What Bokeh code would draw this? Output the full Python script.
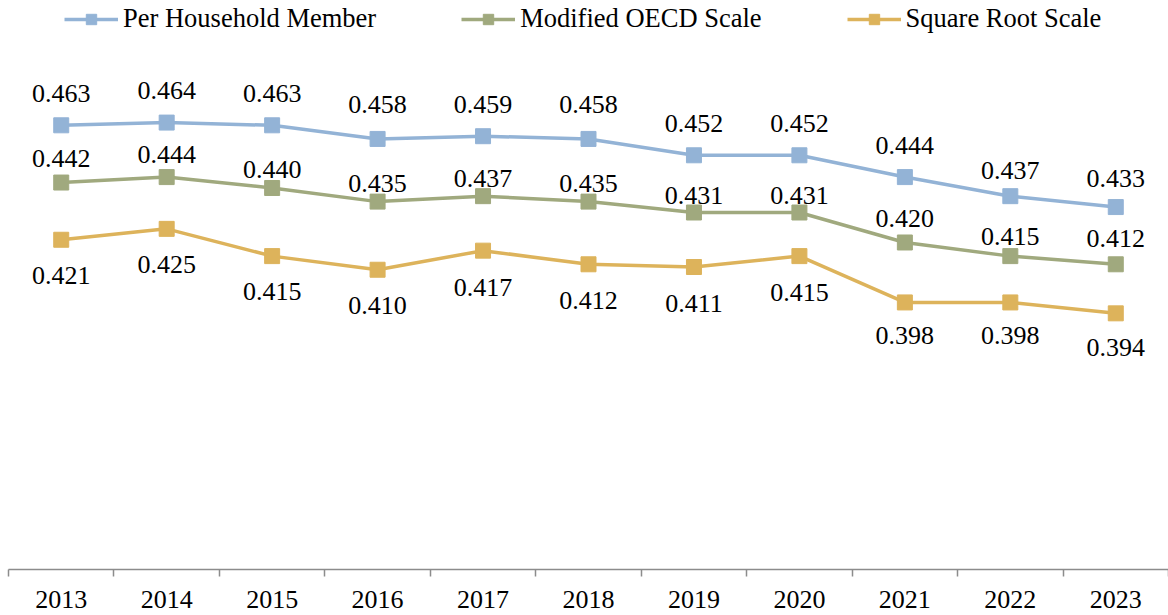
from bokeh.plotting import figure
from bokeh.models import ColumnDataSource, Range1d, LinearAxis, FixedTicker, Legend, LegendItem
from bokeh.core.properties import value
from bokeh.embed import file_html
from bokeh.resources import INLINE

years = ["2013", "2014", "2015", "2016", "2017", "2018", "2019", "2020", "2021", "2022", "2023"]
per_member = [0.463, 0.464, 0.463, 0.458, 0.459, 0.458, 0.452, 0.452, 0.444, 0.437, 0.433]
oecd = [0.442, 0.444, 0.440, 0.435, 0.437, 0.435, 0.431, 0.431, 0.420, 0.415, 0.412]
sqrt_scale = [0.421, 0.425, 0.415, 0.410, 0.417, 0.412, 0.411, 0.415, 0.398, 0.398, 0.394]
series_names = ["Per Household Member", "Modified OECD Scale", "Square Root Scale"]

# label placement (screen px, style only)
off_blue = [-32, -32, -32, -34, -32, -34, -32, -32, -32, -26, -29]
off_green = [-24, -23, -18, -18, -18, -18, -17, -17, -24, -20, -26]
off_gold = [36, 36, 35, 36, 37, 36, 36, 36, 33, 33, 34]

colors = ["#93B3D6", "#A0A97E", "#DDB35B"]
FONT = "'Liberation Serif'"

xs = [i + 0.5 for i in range(len(years))]

p = figure(width=1168, height=615, output_backend="svg", toolbar_location=None,
           x_range=Range1d(0, len(years)), y_range=Range1d(0.30, 0.5088),
           x_axis_location=None, y_axis_location=None,
           min_border_left=8, min_border_right=0, min_border_top=0, min_border_bottom=46)
p.xgrid.visible = False
p.ygrid.visible = False
p.outline_line_color = None
p.background_fill_color = "white"
p.border_fill_color = "white"

items = []
for name, vals, col, offs in zip(series_names, [per_member, oecd, sqrt_scale], colors,
                                 [off_blue, off_green, off_gold]):
    src = ColumnDataSource(dict(x=xs, y=vals, lab=[f"{v:.3f}" for v in vals], off=offs))
    r1 = p.line("x", "y", source=src, line_color=col, line_width=3.5)
    r2 = p.scatter("x", "y", source=src, marker="square", size=15, fill_color=col, line_color=col)
    p.text("x", "y", text="lab", source=src, y_offset="off", text_align="center",
           text_baseline="middle", text_font=value(FONT), text_font_size="26px", text_color="black")
    items.append(LegendItem(label=name, renderers=[r1, r2]))

ax = LinearAxis(ticker=FixedTicker(ticks=xs, minor_ticks=list(range(len(years) + 1))))
ax.major_label_overrides = {x: y for x, y in zip(xs, years)}
ax.major_tick_line_color = None
ax.major_tick_out = 0
ax.major_tick_in = 0
ax.minor_tick_out = 7
ax.minor_tick_in = 0
ax.minor_tick_line_color = "#8c8c8c"
ax.minor_tick_line_width = 1.5
ax.axis_line_color = "#8c8c8c"
ax.axis_line_width = 1.5
ax.major_label_text_font = FONT
ax.major_label_text_font_size = "26px"
ax.major_label_text_color = "black"
ax.major_label_standoff = 14
p.add_layout(ax, "below")

legend = Legend(items=items, orientation="horizontal", location=(56, 535),
                border_line_color=None, background_fill_alpha=0,
                label_text_font=FONT, label_text_font_size="26.5px", label_text_color="black",
                glyph_width=54, glyph_height=26, label_height=26, label_standoff=5,
                spacing=85, padding=0, margin=0)
p.add_layout(legend, "center")

open("out.html", "w").write(file_html(p, INLINE))
